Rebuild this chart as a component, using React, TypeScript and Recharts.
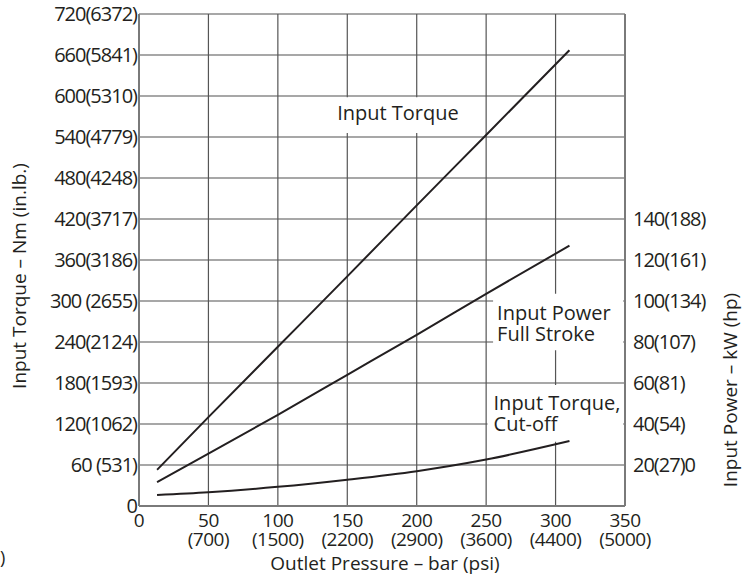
import React from "react";
import { LineChart, Line, XAxis, YAxis, CartesianGrid, ReferenceArea } from "recharts";

// outlet pressure, bar
const pressure = [13, 50, 100, 150, 200, 250, 310];
// input torque, Nm
const inputTorque = [53, 130, 233, 336, 440, 543, 667];
// input power full stroke, kW
const inputPower = [11.6, 25.5, 44.5, 64, 83.5, 103.5, 127];
// input torque cut-off, Nm
const cutoffTorque = [16, 20, 28, 38.5, 51, 68, 95];

const pressureTicks = [0, 50, 100, 150, 200, 250, 300, 350];
const psiLabels = ["", "(700)", "(1500)", "(2200)", "(2900)", "(3600)", "(4400)", "(5000)"];
const torqueTicks = [0, 60, 120, 180, 240, 300, 360, 420, 480, 540, 600, 660, 720];
const torqueLabels = ["0", "60 (531)", "120(1062)", "180(1593)", "240(2124)", "300 (2655)", "360(3186)",
  "420(3717)", "480(4248)", "540(4779)", "600(5310)", "660(5841)", "720(6372)"];
const powerTicks = [20, 40, 60, 80, 100, 120, 140];
const powerLabels = ["20(27)0", "40(54)", "60(81)", "80(107)", "100(134)", "120(161)", "140(188)"];

const data = pressure.map((p, i) => ({
  pressure: p,
  torque: inputTorque[i],
  power: inputPower[i],
  cutoff: cutoffTorque[i],
}));

const INK = "#231f20";
const FONT = "'Open Sans', 'DejaVu Sans', sans-serif";
const txt = { fill: INK, fontFamily: FONT, fontSize: 20 };

function PressureTick({ x, y, payload }: any) {
  const i = pressureTicks.indexOf(payload.value);
  return (
    <g>
      <text x={x} y={y + 21} textAnchor="middle" letterSpacing={-0.5} {...txt} fontSize={19}>{payload.value}</text>
      {psiLabels[i] && (
        <text x={x} y={y + 40} textAnchor="middle" letterSpacing={-0.5} {...txt} fontSize={19}>{psiLabels[i]}</text>
      )}
    </g>
  );
}

function TorqueTick({ x, y, payload }: any) {
  const i = torqueTicks.indexOf(payload.value);
  return <text x={x} y={y + 7} textAnchor="end" letterSpacing={-1} {...txt}>{torqueLabels[i]}</text>;
}

function PowerTick({ x, y, payload }: any) {
  const i = powerTicks.indexOf(payload.value);
  return <text x={x} y={y + 7} textAnchor="start" letterSpacing={-1} {...txt}>{powerLabels[i]}</text>;
}

const boxLabel = (lines: string[], dx: number, dy: number, anchor: "start" | "middle") =>
  ({ viewBox }: any) => {
    const x = anchor === "middle" ? viewBox.x + viewBox.width / 2 : viewBox.x + dx;
    return (
      <text textAnchor={anchor} {...txt}>
        {lines.map((l, k) => (
          <tspan key={k} x={x} y={viewBox.y + dy + k * 21}>{l}</tspan>
        ))}
      </text>
    );
  };

export default function App() {
  return (
    <div style={{ position: "absolute", left: 0, top: 0, width: 752, height: 578, background: "#fff" }}>
      <LineChart width={752} height={578} data={data} margin={{ top: 14, right: 0, bottom: 0, left: 0 }}>
        <CartesianGrid horizontal vertical={false} stroke="#8a8a8a" strokeWidth={1.5} yAxisId="left" />
        <CartesianGrid horizontal={false} vertical stroke="#555" strokeWidth={1.2} yAxisId="left" />
        <XAxis
          dataKey="pressure"
          type="number"
          domain={[0, 350]}
          ticks={pressureTicks}
          height={72}
          tick={<PressureTick />}
          tickSize={0}
          tickMargin={0}
          tickLine={false}
          axisLine={{ stroke: "#7a7a7a", strokeWidth: 2 }}
        />
        <YAxis
          yAxisId="left"
          domain={[0, 720]}
          ticks={torqueTicks}
          width={139}
          tick={<TorqueTick />}
          tickSize={0}
          tickMargin={2}
          tickLine={false}
          axisLine={{ stroke: "#7a7a7a", strokeWidth: 2 }}
        />
        <YAxis
          yAxisId="right"
          orientation="right"
          domain={[0, 240]}
          ticks={powerTicks}
          width={127}
          tick={<PowerTick />}
          tickSize={0}
          tickMargin={8}
          tickLine={false}
          axisLine={{ stroke: "#7a7a7a", strokeWidth: 2 }}
        />
        <ReferenceArea yAxisId="left" x1={138} x2={235} y1={546} y2={598} fill="#fff" fillOpacity={1} stroke="none"
          label={{ content: boxLabel(["Input Torque"], 0, 23, "middle") }} />
        <ReferenceArea yAxisId="right" x1={255} x2={348.7} y1={76} y2={103.5} fill="#fff" fillOpacity={1} stroke="none"
          label={{ content: boxLabel(["Input Power", "Full Stroke"], 4, 26, "start") }} />
        <ReferenceArea yAxisId="left" x1={251} x2={348.7} y1={94} y2={177} fill="#fff" fillOpacity={1} stroke="none"
          label={{ content: boxLabel(["Input Torque,", "Cut-off"], 6, 25, "start") }} />
        <Line yAxisId="left" dataKey="torque" type="monotone" stroke={INK} strokeWidth={2} dot={false} isAnimationActive={false} />
        <Line yAxisId="right" dataKey="power" type="monotone" stroke={INK} strokeWidth={2} dot={false} isAnimationActive={false} />
        <Line yAxisId="left" dataKey="cutoff" type="monotone" stroke={INK} strokeWidth={2} dot={false} isAnimationActive={false} />
      </LineChart>
      <svg width={752} height={578} style={{ position: "absolute", left: 0, top: 0, pointerEvents: "none" }}>
        <text transform="translate(26,276) rotate(-90)" textAnchor="middle" {...txt} fontSize={19}>
          Input Torque – Nm (in.lb.)
        </text>
        <text transform="translate(737,390) rotate(-90)" textAnchor="middle" {...txt} fontSize={19}>
          Input Power – kW (hp)
        </text>
        <text x={385} y={570} textAnchor="middle" {...txt} fontSize={19}>Outlet Pressure – bar (psi)</text>
        <text x={0} y={564} {...txt} fontSize={18}>)</text>
      </svg>
    </div>
  );
}
